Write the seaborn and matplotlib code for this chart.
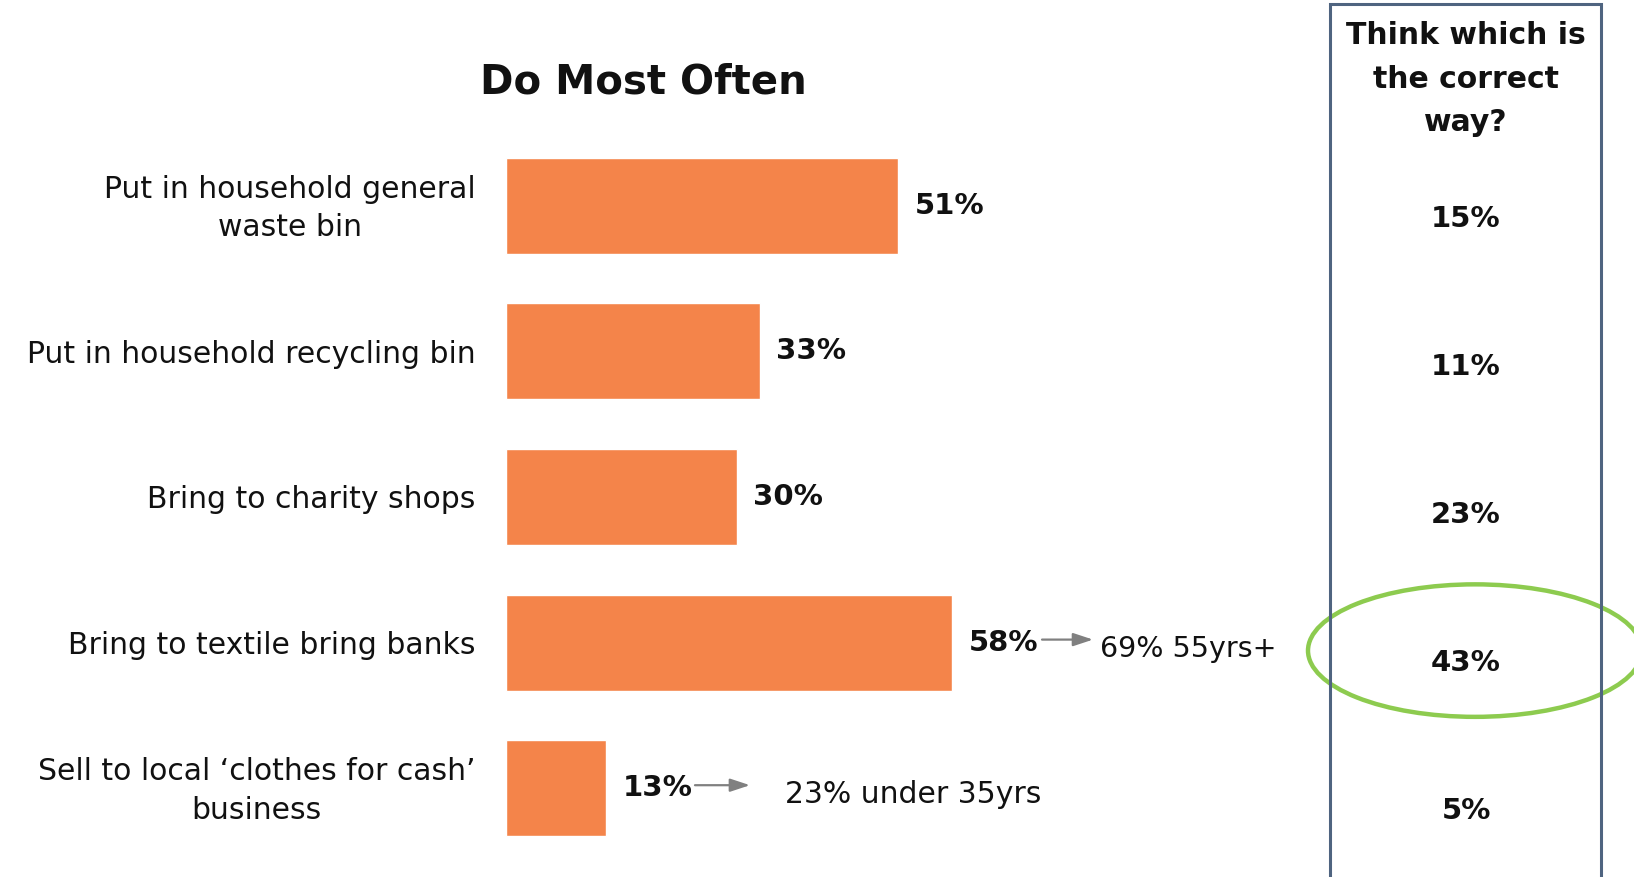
import matplotlib
matplotlib.use("Agg")
import matplotlib.pyplot as plt
import matplotlib.patches as mpatches
from matplotlib.transforms import offset_copy, blended_transform_factory
import pandas as pd
import seaborn as sns

# Survey data: what people do most often with unwanted clothes
categories = [
    "Put in household general\nwaste bin",
    "Put in household recycling bin",
    "Bring to charity shops",
    "Bring to textile bring banks",
    "Sell to local \u2018clothes for cash\u2019\nbusiness",
]
do_most_often = [51, 33, 30, 58, 13]
correct_way = [15, 11, 23, 43, 5]

# Sub-group call-outs (category index -> text)
note_index = [3, 4]
note_text = ["69% 55yrs+", "23% under 35yrs"]
highlight_index = 3

title_left = "Do Most Often"
title_right = "Think which is\nthe correct\nway?"

BAR_COLOR = "#F4844A"
BOX_COLOR = "#4F6480"
RING_COLOR = "#8DCB4F"
ARROW_COLOR = "#808080"

sns.set_theme(style="white")
plt.rcParams["font.family"] = ["DejaVu Sans"]

W, H = 1634, 877
fig = plt.figure(figsize=(W / 100, H / 100), dpi=100)
fig.patch.set_facecolor("white")

def fx(px):
    return px / W

def fy(px):
    return 1 - px / H

# Bar axes: left edge at 506 px, 7.69 px per percentage point
ax_left, ax_right = 506, 1300
ax_top, ax_bot = 133, 861
ax = fig.add_axes([fx(ax_left), fy(ax_bot), fx(ax_right - ax_left), (ax_bot - ax_top) / H])

df = pd.DataFrame({"category": categories, "value": do_most_often})
sns.barplot(data=df, x="value", y="category", orient="h", color=BAR_COLOR,
            width=0.66, saturation=1, ax=ax)
ax.set_xlim(0, (ax_right - ax_left) / 7.69)
ax.set_ylim(len(categories) - 0.5, -0.5)
ax.set_xlabel("")
ax.set_ylabel("")
ax.set_xticks([])
sns.despine(ax=ax, left=True, bottom=True)
ax.tick_params(axis="y", length=0, pad=22)
for lab in ax.get_yticklabels():
    lab.set_fontsize(21.5)
    lab.set_color("#111111")
    lab.set_multialignment("center")
    lab.set_linespacing(1.42)
    if "\n" in lab.get_text():
        # two-line labels sit a touch higher than the bar centre
        lab.set_transform(lab.get_transform() + offset_copy(
            plt.matplotlib.transforms.IdentityTransform(), fig=fig, x=0, y=5, units="dots"))

ax.bar_label(ax.containers[0], labels=[f"{v}%" for v in do_most_often],
             padding=12, fontsize=21, fontweight="bold", color="#111111")

# Arrows and sub-group notes after selected bars
note_offsets = {3: (90, 141, 148), 4: (89, 144, 179)}
note_sizes = {3: 20.5, 4: 21.5}
for idx, txt in zip(note_index, note_text):
    v = do_most_often[idx]
    a0, a1, t0 = note_offsets[idx]
    start = offset_copy(ax.transData, fig=fig, x=a0, y=3, units="dots")
    end = offset_copy(ax.transData, fig=fig, x=a1, y=3, units="dots")
    ax.annotate("", xy=(v, idx), xycoords=end, xytext=(v, idx), textcoords=start,
                arrowprops=dict(arrowstyle="-|>,head_length=1.0,head_width=0.33",
                                color=ARROW_COLOR, lw=1.6, shrinkA=0, shrinkB=0),
                annotation_clip=False)
    tt = offset_copy(ax.transData, fig=fig, x=t0, y=-6, units="dots")
    ax.text(v, idx, txt, transform=tt, ha="left", va="center",
            fontsize=note_sizes[idx], color="#111111", clip_on=False)

fig.text(fx(643), fy(83), title_left, ha="center", va="center",
         fontsize=29, fontweight="bold", color="#111111")

# Right-hand column: "correct way" shares inside a framed panel
col_x = 1466
box = mpatches.Rectangle((fx(1330), fy(H + 10)), fx(1601 - 1330), (H + 10 - 4) / H,
                         transform=fig.transFigure, fill=False,
                         edgecolor=BOX_COLOR, lw=2.2, clip_on=False)
fig.add_artist(box)
fig.text(fx(col_x), fy(79), title_right, ha="center", va="center",
         fontsize=21.5, fontweight="bold", color="#111111", linespacing=1.62)

col_tr = blended_transform_factory(fig.transFigure, ax.transData)
for i, v in enumerate(correct_way):
    tr = offset_copy(col_tr, fig=fig, x=0, y=-(13 + 2.4 * i), units="dots")
    ax.text(fx(col_x), i, f"{v}%", transform=tr, ha="center", va="center",
            fontsize=21, fontweight="bold", color="#111111", clip_on=False)

# Ring around the highlighted answer
ring_tr = offset_copy(col_tr, fig=fig, x=0, y=-8, units="dots")
ring = mpatches.Ellipse((fx(1475), highlight_index), fx(334), 0.91,
                        transform=ring_tr, fill=False, edgecolor=RING_COLOR,
                        lw=3.2, clip_on=False)
ax.add_artist(ring)

fig.savefig("out.png", dpi=100, facecolor="white")
